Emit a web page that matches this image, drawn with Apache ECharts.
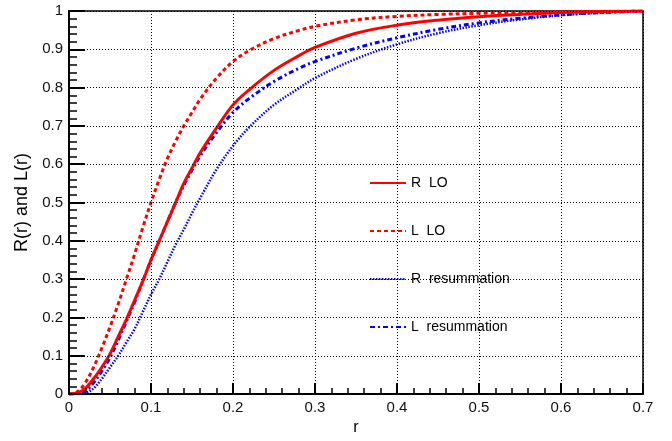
<!DOCTYPE html>
<html>
<head>
<meta charset="utf-8">
<script src="https://cdn.jsdelivr.net/npm/echarts@6/dist/echarts.min.js"></script>
<style>html,body{margin:0;padding:0;background:#fff}#c{width:672px;height:441px}</style>
</head>
<body>
<div id="c"></div>
<script>
var rValues = [0, 0.01, 0.02, 0.03, 0.04, 0.05, 0.06, 0.07, 0.08, 0.09, 0.10, 0.11, 0.12, 0.13, 0.14, 0.15, 0.16, 0.18, 0.20, 0.22, 0.25, 0.28, 0.30, 0.35, 0.40, 0.45, 0.50, 0.55, 0.60, 0.65, 0.70];
var R_LO = [0, 0.003, 0.015, 0.04, 0.07, 0.105, 0.15, 0.195, 0.245, 0.295, 0.35, 0.40, 0.45, 0.50, 0.55, 0.59, 0.63, 0.695, 0.755, 0.795, 0.845, 0.883, 0.905, 0.942, 0.963, 0.976, 0.985, 0.991, 0.996, 0.999, 1.0];
var L_LO = [0, 0.006, 0.03, 0.07, 0.12, 0.175, 0.235, 0.30, 0.365, 0.435, 0.50, 0.56, 0.615, 0.66, 0.70, 0.735, 0.77, 0.825, 0.868, 0.897, 0.928, 0.949, 0.96, 0.977, 0.986, 0.991, 0.994, 0.996, 0.998, 0.999, 1.0];
var R_res = [0, 0, 0.003, 0.015, 0.04, 0.07, 0.10, 0.135, 0.17, 0.215, 0.26, 0.30, 0.345, 0.39, 0.43, 0.472, 0.512, 0.587, 0.648, 0.697, 0.755, 0.798, 0.825, 0.875, 0.913, 0.942, 0.963, 0.978, 0.989, 0.996, 1.0];
var L_res = [0, 0.001, 0.008, 0.03, 0.06, 0.095, 0.14, 0.19, 0.24, 0.295, 0.35, 0.40, 0.45, 0.50, 0.545, 0.585, 0.622, 0.683, 0.735, 0.772, 0.816, 0.85, 0.868, 0.903, 0.93, 0.952, 0.969, 0.981, 0.99, 0.996, 1.0];
var seriesNames = ['R  LO', 'L  LO', 'R  resummation', 'L  resummation'];
var xTitle = 'r';
var yTitle = 'R(r) and L(r)';

function pairs(ys) { return rValues.map(function (r, i) { return [r, ys[i]]; }); }

var styles = [
  { color: '#ff0000', width: 3, type: 'solid' },
  { color: '#ff0000', width: 3, type: [4, 3] },
  { color: '#0000ff', width: 2.5, type: [1.5, 1.5] },
  { color: '#0000ff', width: 3, type: [5, 3, 2, 3] }
];
var datas = [R_LO, L_LO, R_res, L_res];
var tickColor = '#000000';

var chart = echarts.init(document.getElementById('c'), null, { renderer: 'canvas' });
var font = 'Liberation Sans, Arial, Helvetica, sans-serif';
chart.setOption({
  animation: false,
  backgroundColor: '#fff',
  grid: { left: 69, right: 29, top: 11, bottom: 40, show: false },
  legend: {
    orient: 'vertical', left: 364, top: 171, itemWidth: 36, itemHeight: 14, itemGap: 34,
    textStyle: { fontFamily: font, fontSize: 14, color: '#000' },
    itemStyle: { opacity: 0, borderWidth: 0 },
    data: seriesNames
  },
  xAxis: [{
    type: 'value', min: 0, max: 0.7, interval: 0.1, position: 'bottom', z: 10,
    name: xTitle, nameLocation: 'middle', nameGap: 22,
    nameTextStyle: { fontFamily: font, fontSize: 16, color: '#000' },
    axisLine: { show: true, onZero: false, lineStyle: { color: '#000', width: 2 } },
    axisTick: { show: true, inside: true, length: 11, lineStyle: { color: tickColor, width: 2 } },
    minorTick: { show: true, splitNumber: 5, length: 6, lineStyle: { color: tickColor, width: 1.5 } },
    axisLabel: { fontFamily: font, fontSize: 15, color: '#111', margin: 6 },
    splitLine: { show: true, lineStyle: { color: '#000', width: 1, type: [1, 2] } }
  }, {
    type: 'value', min: 0, max: 0.7, interval: 0.1, position: 'top',
    axisLine: { show: true, onZero: false, lineStyle: { color: '#000', width: 1.5 } },
    axisTick: { show: false }, axisLabel: { show: false }, splitLine: { show: false }
  }],
  yAxis: [{
    type: 'value', min: 0, max: 1, interval: 0.1, position: 'left', z: 10,
    name: yTitle, nameLocation: 'middle', nameGap: 38,
    nameTextStyle: { fontFamily: font, fontSize: 18, color: '#000' },
    axisLine: { show: true, onZero: false, lineStyle: { color: '#000', width: 2 } },
    axisTick: { show: true, inside: true, length: 16, lineStyle: { color: tickColor, width: 2 } },
    minorTick: { show: true, splitNumber: 5, length: 8, lineStyle: { color: tickColor, width: 1.5 } },
    axisLabel: { fontFamily: font, fontSize: 15, color: '#111', margin: 6 },
    splitLine: { show: true, lineStyle: { color: '#000', width: 1, type: [1, 2] } }
  }, {
    type: 'value', min: 0, max: 1, interval: 0.1, position: 'right',
    axisLine: { show: true, onZero: false, lineStyle: { color: '#000', width: 1.5 } },
    axisTick: { show: false }, axisLabel: { show: false }, splitLine: { show: false }
  }],
  series: seriesNames.map(function (n, i) {
    return {
      name: n, type: 'line', data: pairs(datas[i]), smooth: 0.35, showSymbol: false, symbol: 'none',
      xAxisIndex: 0, yAxisIndex: 0,
      lineStyle: { color: styles[i].color, width: styles[i].width, type: styles[i].type },
      itemStyle: { color: styles[i].color },
      z: 3 + (3 - i)
    };
  })
});
</script>
</body>
</html>
